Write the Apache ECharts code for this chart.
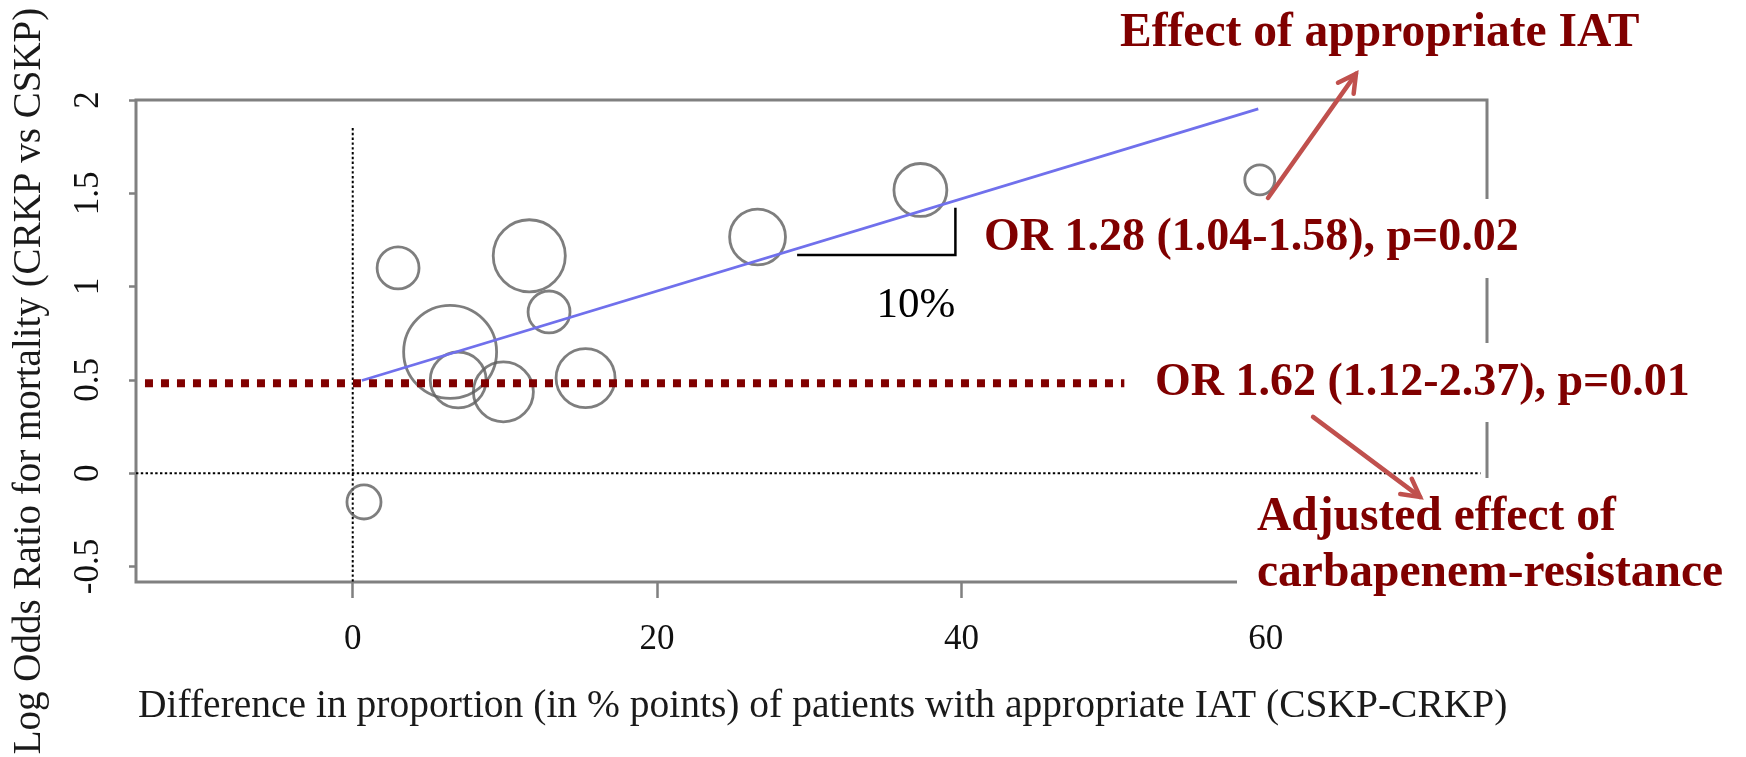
<!DOCTYPE html>
<html><head><meta charset="utf-8">
<script src="https://cdn.jsdelivr.net/npm/echarts@6/dist/echarts.min.js"></script>
<style>html,body{margin:0;padding:0;background:#fff;}#c{width:1746px;height:757px;}</style>
</head><body><div id="c"></div>
<script>
// ---- data ----
const xTicks = [0, 20, 40, 60];
const yTicks = [-0.5, 0, 0.5, 1, 1.5, 2];
const studyDiff   = [0.74, 2.98, 6.4, 6.93, 9.9, 11.6, 12.9, 15.3, 26.6, 37.3, 59.6];
const studyLogOR  = [-0.154, 1.10, 0.65, 0.50, 0.436, 1.165, 0.864, 0.51, 1.266, 1.518, 1.572];
const studyWeight = [2.9, 4.4, 21.6, 7.8, 9.0, 13.0, 4.4, 8.7, 7.8, 7.0, 2.25];
const fitX = [0.6, 59.5];
const fitY = [0.497, 1.952];
const adjustedX = [-13.65, 50.7];
const adjustedY = [0.482, 0.482];
const slopeX = [29.2, 39.6, 39.6];
const slopeY = [1.17, 1.17, 1.422];
const refVX = [0, 0], refVY = [1.85, -0.583];
const refHX = [-14.24, 74.1], refHY = [0, 0];
const arrow1 = [[60.14, 1.475], [65.92, 2.14]];
const arrow2 = [[63.1, 0.302], [70.13, -0.127]];
const xTitle = 'Difference in proportion (in % points) of patients with appropriate IAT (CSKP-CRKP)';
const yTitle = 'Log Odds Ratio for mortality (CRKP vs CSKP)';

const zip = (a, b) => a.map((v, i) => [v, b[i]]);
const SERIF = '"Liberation Serif", "Times New Roman", serif';
const RED = '#800000';

const chart = echarts.init(document.getElementById('c'), null, {renderer: 'canvas'});
chart.setOption({
  animation: false,
  backgroundColor: '#fff',
  grid: {left: 136, right: 259, top: 100, bottom: 175, show: true,
         borderColor: '#808080', borderWidth: 3, backgroundColor: 'transparent'},
  xAxis: {
    type: 'value', min: -14.24, max: 74.53, position: 'bottom',
    splitLine: {show: false},
    axisLine: {show: false, onZero: false},
    axisTick: {show: true, inside: false, customValues: xTicks, length: 16, lineStyle: {color: '#808080', width: 2.5}},
    axisLabel: {customValues: xTicks, fontSize: 35, fontFamily: SERIF, color: '#111', margin: 40}
  },
  yAxis: {
    type: 'value', min: -0.583, max: 2.0, position: 'left',
    splitLine: {show: false},
    axisLine: {show: false, onZero: false},
    axisTick: {show: true, inside: false, customValues: yTicks, length: 7, lineStyle: {color: '#808080', width: 2.5}},
    axisLabel: {customValues: yTicks, rotate: 90, fontSize: 35, fontFamily: SERIF, color: '#111', margin: 30}
  },
  series: [
    {type: 'line', data: zip(refVX, refVY), symbol: 'none', z: 2,
     lineStyle: {color: '#000', width: 2, type: [2.4, 2.4]}},
    {type: 'line', data: zip(refHX, refHY), symbol: 'none', z: 2,
     lineStyle: {color: '#000', width: 2, type: [2.4, 2.4]}},
    {type: 'scatter', data: studyDiff.map((x, i) => [x, studyLogOR[i], studyWeight[i]]),
     symbol: 'circle', symbolSize: v => 20 * Math.sqrt(v[2]), z: 3,
     itemStyle: {color: 'rgba(255,255,255,0)', borderColor: '#5e5e5e', borderWidth: 2.8}},
    {type: 'line', data: zip(fitX, fitY), symbol: 'none', z: 4,
     lineStyle: {color: '#7070ec', width: 2.8}},
    {type: 'line', data: zip(adjustedX, adjustedY), symbol: 'none', z: 5,
     lineStyle: {color: RED, width: 8, type: [8, 8], cap: 'butt'}},
    {type: 'line', data: zip(slopeX, slopeY), symbol: 'none', z: 4,
     lineStyle: {color: '#000', width: 2.5, join: 'miter'}}
  ]
});

function arrowGraphic(seg) {
  const t = chart.convertToPixel({gridIndex: 0}, seg[0]);
  const h = chart.convertToPixel({gridIndex: 0}, seg[1]);
  const ang = Math.atan2(h[1] - t[1], h[0] - t[0]);
  const L = 20, a = 0.5;
  const b1 = [h[0] - L * Math.cos(ang - a), h[1] - L * Math.sin(ang - a)];
  const b2 = [h[0] - L * Math.cos(ang + a), h[1] - L * Math.sin(ang + a)];
  const st = {stroke: '#c0504d', lineWidth: 4.5, lineCap: 'round', lineJoin: 'miter', fill: null};
  return [
    {type: 'polyline', z: 110, shape: {points: [t, h]}, style: st},
    {type: 'polyline', z: 110, shape: {points: [b1, h, b2]}, style: st}
  ];
}
function txt(text, x, y, size, opts) {
  opts = opts || {};
  return {type: 'text', x: x, y: y, z: 120, rotation: opts.rot || 0,
    style: {text: text, fill: opts.color || '#111', align: opts.align || 'left', verticalAlign: 'middle',
            font: (opts.bold ? 'bold ' : '') + size + 'px ' + SERIF}};
}
const white = (x, y, w, h) => ({type: 'rect', z: 100, shape: {x: x, y: y, width: w, height: h},
  style: {fill: '#fff'}});

chart.setOption({graphic: [].concat(
  [white(975, 199, 545, 79), white(1140, 343, 606, 79), white(1237, 478, 509, 134)],
  arrowGraphic(arrow1), arrowGraphic(arrow2),
  [
    txt('Effect of appropriate IAT', 1120, 34, 47.5, {bold: true, color: RED}),
    txt('OR 1.28 (1.04-1.58), p=0.02', 984, 238, 46, {bold: true, color: RED}),
    txt('OR 1.62 (1.12-2.37), p=0.01', 1155, 383, 46, {bold: true, color: RED}),
    txt('Adjusted effect of', 1257, 518, 47.5, {bold: true, color: RED}),
    txt('carbapenem-resistance', 1257, 574, 47.5, {bold: true, color: RED}),
    txt('10%', 916, 306, 43, {align: 'center', color: '#000'}),
    txt(xTitle, 138, 707, 39.5, {color: '#1a1a1a'}),
    txt(yTitle, 30, 381, 39, {align: 'center', rot: Math.PI / 2, color: '#1a1a1a'})
  ]
)});
</script></body></html>
